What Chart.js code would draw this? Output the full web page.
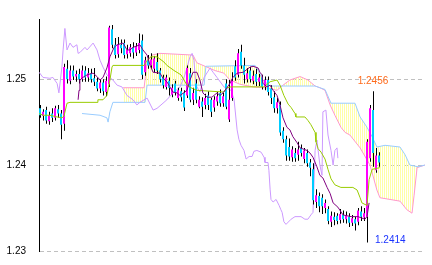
<!DOCTYPE html>
<html>
<head>
<meta charset="utf-8">
<script src="https://cdn.jsdelivr.net/npm/chart.js@4.4.1/dist/chart.umd.min.js"></script>
<style>
  html, body { margin: 0; padding: 0; background: #fff; }
  #chart { display: block; }
</style>
</head>
<body>
<canvas id="chart" width="432" height="265"></canvas>
<script>
// price axis
const yTicks = [1.23, 1.24, 1.25];

// candles, one per bar index 0..113
const opens = [
  1.2466, 1.2457, 1.2464, 1.2451, 1.2460, 1.2455, 1.2465, 1.2460, 1.2448, 1.2512,
  1.2498, 1.2510, 1.2503, 1.2506, 1.2500, 1.2510, 1.2502, 1.2507, 1.2501, 1.2497,
  1.2489, 1.2496, 1.2485, 1.2494, 1.2558, 1.2540, 1.2529, 1.2540, 1.2542, 1.2529,
  1.2530, 1.2537, 1.2531, 1.2534, 1.2545, 1.2508, 1.2522, 1.2516, 1.2512, 1.2520,
  1.2510, 1.2502, 1.2491, 1.2498, 1.2482, 1.2495, 1.2478, 1.2486, 1.2484, 1.2481,
  1.2507, 1.2476, 1.2495, 1.2468, 1.2474, 1.2470, 1.2481, 1.2476, 1.2467, 1.2474,
  1.2484, 1.2472, 1.2495, 1.2453, 1.2478, 1.2515, 1.2505, 1.2532, 1.2516, 1.2500,
  1.2510, 1.2498, 1.2506, 1.2497, 1.2502, 1.2491, 1.2499, 1.2489, 1.2479, 1.2466,
  1.2470, 1.2440, 1.2430, 1.2421, 1.2409, 1.2414, 1.2412, 1.2420, 1.2407, 1.2414,
  1.2403, 1.2395, 1.2357, 1.2364, 1.2362, 1.2350, 1.2349, 1.2334, 1.2340, 1.2341,
  1.2336, 1.2342, 1.2337, 1.2340, 1.2333, 1.2337, 1.2334, 1.2346, 1.2339, 1.2340,
  1.2408, 1.2464, 1.2394, 1.2411
];
const closes = [
  1.2458, 1.2462, 1.2452, 1.2458, 1.2455, 1.2466, 1.2460, 1.2447, 1.2514, 1.2500,
  1.2510, 1.2503, 1.2506, 1.2500, 1.2510, 1.2502, 1.2507, 1.2500, 1.2497, 1.2489,
  1.2496, 1.2486, 1.2498, 1.2560, 1.2540, 1.2528, 1.2540, 1.2536, 1.2528, 1.2534,
  1.2537, 1.2531, 1.2538, 1.2542, 1.2505, 1.2522, 1.2516, 1.2523, 1.2524, 1.2510,
  1.2500, 1.2493, 1.2502, 1.2490, 1.2490, 1.2484, 1.2487, 1.2479, 1.2467, 1.2513,
  1.2476, 1.2484, 1.2476, 1.2476, 1.2468, 1.2478, 1.2470, 1.2462, 1.2476, 1.2480,
  1.2472, 1.2480, 1.2468, 1.2476, 1.2498, 1.2502, 1.2530, 1.2516, 1.2505, 1.2507,
  1.2500, 1.2504, 1.2497, 1.2502, 1.2491, 1.2499, 1.2485, 1.2478, 1.2466, 1.2473,
  1.2438, 1.2430, 1.2411, 1.2410, 1.2418, 1.2408, 1.2418, 1.2414, 1.2417, 1.2402,
  1.2397, 1.2359, 1.2365, 1.2352, 1.2352, 1.2356, 1.2335, 1.2341, 1.2336, 1.2335,
  1.2343, 1.2337, 1.2341, 1.2333, 1.2338, 1.2332, 1.2347, 1.2340, 1.2344, 1.2427,
  1.2466, 1.2414, 1.2411, 1.2403
];
const highs = [
  1.2470, 1.2465, 1.2468, 1.2462, 1.2466, 1.2469, 1.2470, 1.2464, 1.2518, 1.2522,
  1.2516, 1.2516, 1.2510, 1.2512, 1.2516, 1.2515, 1.2513, 1.2512, 1.2513, 1.2502,
  1.2500, 1.2500, 1.2503, 1.2562, 1.2563, 1.2548, 1.2549, 1.2546, 1.2546, 1.2540,
  1.2541, 1.2543, 1.2542, 1.2553, 1.2552, 1.2526, 1.2528, 1.2530, 1.2527, 1.2530,
  1.2513, 1.2505, 1.2505, 1.2502, 1.2494, 1.2498, 1.2490, 1.2490, 1.2487, 1.2516,
  1.2513, 1.2490, 1.2500, 1.2480, 1.2479, 1.2483, 1.2486, 1.2478, 1.2480, 1.2485,
  1.2488, 1.2484, 1.2500, 1.2499, 1.2508, 1.2522, 1.2535, 1.2540, 1.2525, 1.2513,
  1.2514, 1.2510, 1.2512, 1.2506, 1.2505, 1.2503, 1.2503, 1.2493, 1.2486, 1.2478,
  1.2474, 1.2444, 1.2434, 1.2431, 1.2422, 1.2420, 1.2427, 1.2424, 1.2420, 1.2418,
  1.2407, 1.2402, 1.2372, 1.2368, 1.2366, 1.2360, 1.2352, 1.2346, 1.2345, 1.2344,
  1.2349, 1.2347, 1.2346, 1.2344, 1.2342, 1.2340, 1.2350, 1.2352, 1.2350, 1.2430,
  1.2470, 1.2486, 1.2420, 1.2415
];
const lows = [
  1.2455, 1.2452, 1.2448, 1.2447, 1.2450, 1.2452, 1.2455, 1.2430, 1.2440, 1.2495,
  1.2494, 1.2499, 1.2497, 1.2495, 1.2497, 1.2497, 1.2497, 1.2496, 1.2492, 1.2486,
  1.2484, 1.2481, 1.2480, 1.2491, 1.2536, 1.2524, 1.2525, 1.2530, 1.2524, 1.2524,
  1.2526, 1.2524, 1.2527, 1.2530, 1.2500, 1.2504, 1.2512, 1.2512, 1.2508, 1.2506,
  1.2496, 1.2489, 1.2488, 1.2481, 1.2479, 1.2481, 1.2475, 1.2474, 1.2463, 1.2478,
  1.2473, 1.2470, 1.2472, 1.2466, 1.2456, 1.2465, 1.2464, 1.2456, 1.2462, 1.2469,
  1.2468, 1.2468, 1.2465, 1.2450, 1.2475, 1.2498, 1.2502, 1.2512, 1.2495, 1.2496,
  1.2496, 1.2494, 1.2492, 1.2492, 1.2488, 1.2487, 1.2481, 1.2471, 1.2461, 1.2460,
  1.2434, 1.2426, 1.2405, 1.2405, 1.2404, 1.2404, 1.2405, 1.2410, 1.2402, 1.2398,
  1.2387, 1.2354, 1.2350, 1.2345, 1.2343, 1.2344, 1.2331, 1.2328, 1.2330, 1.2331,
  1.2332, 1.2333, 1.2332, 1.2328, 1.2329, 1.2324, 1.2330, 1.2335, 1.2335, 1.2310,
  1.2404, 1.2398, 1.2391, 1.2398
];

// indicator lines as [bar index, price]
const tenkan = [
  [12.7,1.2476],[13,1.2487],[13.3,1.2499],[14.3,1.2502],[15.7,1.2505],[17.7,1.2507],[19,1.2503],
  [20,1.2499],[21,1.2502],[22.3,1.2513],[23.3,1.2526],[24.7,1.2537],[25.7,1.2540],[27.7,1.2542],
  [29,1.2534],[30,1.2534],[31,1.2537],[33.3,1.2540],[34.3,1.2534],[35.7,1.2528],[36.7,1.2516],
  [37.7,1.2508],[40,1.2507],[41,1.2501],[42.3,1.2497],[43.3,1.2491],[44.3,1.2485],[45.7,1.2484],
  [46.7,1.2481],[49,1.2487],[50,1.2499],[51,1.2508],[52.3,1.2508],[53.3,1.2499],[54.3,1.2484],
  [55.7,1.2479],[57.3,1.2479],[59,1.2484],[60,1.2481],[61,1.2484],[62.3,1.2490],[63.3,1.2495],
  [64.3,1.2502],[65.7,1.2507],[67.7,1.2508],[70,1.2514],[71,1.2515],[72.7,1.2513],[73.3,1.2508],
  [74,1.2505],[74.3,1.2495],[75.7,1.2491],[76.7,1.2493],[77.7,1.2487],[79,1.2481],[80,1.2470],
  [81,1.2455],[82.3,1.2444],[83.3,1.2441],[84.3,1.2433],[85.7,1.2426],[86.7,1.2420],[89,1.2417],
  [90,1.2414],[91,1.2409],[92.3,1.2398],[93.3,1.2388],[94.3,1.2385],[95.7,1.2374],[96.7,1.2367],
  [97.7,1.2356],[99.3,1.2351],[101,1.2342],[103.7,1.2340],[106,1.2340],[108.3,1.2337],[109,1.2340],
  [109.7,1.2356]
];
const kijun = [
  [-0.3,1.2460],[1,1.2458],[3.3,1.2458],[5.7,1.2456],[7.3,1.2455],[8,1.2457],[9,1.2472],[10,1.2473],
  [19,1.2473],[19.3,1.2476],[21,1.2476],[22.3,1.2481],[23.3,1.2499],[24,1.2514],[24.3,1.2516],
  [34.7,1.2516],[35.7,1.2522],[37,1.2526],[39,1.2526],[41.3,1.2520],[42.3,1.2516],[44.7,1.2510],
  [47,1.2505],[48,1.2499],[49,1.2493],[50.3,1.2490],[52.3,1.2487],[61.3,1.2485],[62.3,1.2490],
  [63.7,1.2491],[74.7,1.2491],[76.7,1.2497],[79,1.2499],[80,1.2493],[81.3,1.2481],[82.7,1.2471],
  [83.7,1.2467],[85,1.2460],[85.3,1.2456],[88.3,1.2456],[89.3,1.2452],[90.3,1.2447],[91.7,1.2438],
  [92,1.2427],[92.7,1.2419],[93.7,1.2415],[95,1.2407],[96,1.2395],[97,1.2384],[98.3,1.2377],
  [100.3,1.2374],[104.3,1.2374],[105.7,1.2371],[106.7,1.2362],[107.3,1.2356],[109,1.2353],
  [109.7,1.2383],[110.7,1.2395],[113.3,1.2397]
];
const chikou = [
  [-0.3,1.2508],[1,1.2502],[3.3,1.2501],[4.3,1.2502],[5.7,1.2495],[6.3,1.2484],[7.3,1.2514],
  [7.7,1.2534],[8.3,1.2559],[9,1.2534],[10,1.2542],[11,1.2537],[12.3,1.2540],[12.7,1.2530],
  [13.3,1.2531],[15,1.2537],[15.7,1.2534],[17.7,1.2542],[19,1.2534],[20,1.2522],[21,1.2514],
  [22.3,1.2505],[24.3,1.2499],[25.7,1.2493],[27.3,1.2491],[29,1.2481],[31,1.2476],[32.3,1.2470],
  [33.3,1.2473],[35.7,1.2478],[37.7,1.2464],[39,1.2466],[41,1.2472],[42.3,1.2476],[44.3,1.2484],
  [46.7,1.2491],[48.3,1.2505],[50,1.2526],[50.7,1.2530],[51.3,1.2522],[52,1.2493],[53.3,1.2485],
  [54.7,1.2502],[56.7,1.2513],[57.7,1.2508],[59,1.2502],[61.3,1.2491],[63.7,1.2487],[64.7,1.2476],
  [65.7,1.2441],[66.3,1.2430],[67,1.2423],[68,1.2417],[68.7,1.2407],[69.7,1.2410],[70.7,1.2410],
  [71.3,1.2416],[72.3,1.2417],[73.7,1.2415],[74.7,1.2409],[75,1.2403],[76,1.2403],[76.3,1.2394],
  [76.7,1.2372],[77,1.2360],[77.7,1.2357],[78.7,1.2360],[79.7,1.2353],[80.3,1.2348],[80.7,1.2345],
  [81.3,1.2334],[82,1.2331],[83.7,1.2337],[85,1.2340],[87,1.2340],[88.3,1.2337],[89.3,1.2337],
  [90.3,1.2342],[91,1.2345],[91.7,1.2417],[92.3,1.2429],[93.3,1.2400],[94,1.2388],[94.3,1.2462],
  [95.3,1.2464],[96,1.2435],[97,1.2417],[97.7,1.2400],[98.3,1.2417],[99,1.2420],[99.3,1.2408]
];
const spanA = [
  [27.7,1.2490],[34.7,1.2490],[35.7,1.2520],[37.3,1.2528],[40,1.2530],[45.7,1.2529],[51,1.2528],
  [52.3,1.2519],[55,1.2515],[58.3,1.2510],[61.3,1.2507],[63.3,1.2499],[66.7,1.2494],[71,1.2491],
  [75,1.2490],[79,1.2487],[81,1.2493],[83.3,1.2499],[86.7,1.2503],[89.3,1.2499],[91.7,1.2492],
  [93.3,1.2490],[95,1.2487],[96.7,1.2470],[98.3,1.2458],[100.3,1.2444],[101.7,1.2438],[103.3,1.2435],
  [106.7,1.2420],[110,1.2400],[112.3,1.2371],[113.3,1.2362],[120,1.2358],[122.3,1.2348],[124,1.2344],
  [124.7,1.2365],[125.7,1.2397],[128.3,1.2400]
];
const spanB = [
  [14,1.2460],[20,1.2458],[22.3,1.2455],[22.7,1.2450],[23.3,1.2462],[24.3,1.2473],[35,1.2473],
  [35.7,1.2493],[54.7,1.2493],[55.3,1.2515],[71.7,1.2516],[72.7,1.2510],[74.3,1.2499],[76.7,1.2492],
  [91.7,1.2492],[93.3,1.2490],[95,1.2488],[97,1.2472],[105,1.2472],[106.7,1.2456],[109,1.2444],
  [110.7,1.2433],[112.3,1.2421],[115,1.2423],[120,1.2421],[121.7,1.2412],[123.3,1.2400],[126,1.2398],
  [128.3,1.2400]
];

// price notes written on the chart: [bar index, text]
const highNote = [111, '1.2456'];
const lowNote = [109, '1.2414'];

const canvas = document.getElementById('chart');
const ctx = canvas.getContext('2d');

// vertical hatching for the cloud
const tile = document.createElement('canvas');
tile.width = 2;
tile.height = 1;
const tctx = tile.getContext('2d');
tctx.fillStyle = '#ffffa8';
tctx.fillRect(0, 0, 1, 1);
const hatch = ctx.createPattern(tile, 'repeat');

const toPoints = arr => arr.map(p => ({x: p[0], y: p[1]}));
const bars = opens.map((o, i) => i);

function line(label, pts, color, order, extra) {
    return Object.assign({
        type: 'line',
        label: label,
        data: toPoints(pts),
        borderColor: color,
        borderWidth: 1,
        pointRadius: 0,
        tension: 0,
        fill: false,
        order: order
    }, extra || {});
}

const notes = {
    id: 'notes',
    afterDatasetsDraw(chart) {
        const x = chart.scales.x;
        const y = chart.scales.y;
        const c = chart.ctx;
        c.save();
        c.font = '10px "Liberation Sans", Arial, sans-serif';
        c.textBaseline = 'alphabetic';
        c.fillStyle = '#ff6a1a';
        c.textAlign = 'center';
        c.fillText(highNote[1], x.getPixelForValue(highNote[0]), y.getPixelForValue(highs[highNote[0]]) - 7);
        c.fillStyle = '#1a33ff';
        c.textAlign = 'left';
        c.fillText(lowNote[1], x.getPixelForValue(lowNote[0]) + 8, y.getPixelForValue(lows[lowNote[0]]) + 1);
        c.restore();
    }
};

Chart.defaults.font.family = '"Liberation Sans", Arial, sans-serif';
Chart.defaults.font.size = 10;
Chart.defaults.color = '#000';

new Chart(ctx, {
    type: 'bar',
    data: {
        datasets: [
            line('Senkou A', spanA, '#ff99cc', 10, {fill: '+1', backgroundColor: hatch}),
            line('Senkou B', spanB, '#99ccff', 9),
            line('Chikou', chikou, '#cc99ff', 8),
            {
                type: 'bar',
                label: 'wick',
                xAxisID: 'xw',
                data: bars.map(i => ({x: i, y: [lows[i], highs[i]]})),
                backgroundColor: '#000',
                barThickness: 1,
                grouped: false,
                inflateAmount: 0,
                borderWidth: 0,
                order: 6
            },
            {
                type: 'bar',
                label: 'body',
                data: bars.map(i => ({x: i, y: [opens[i], closes[i]]})),
                backgroundColor: c => closes[c.dataIndex] >= opens[c.dataIndex] ? '#ff00ff' : '#00ccff',
                barThickness: 2,
                grouped: false,
                inflateAmount: 0,
                borderWidth: 0,
                order: 5
            },
            line('Kijun', kijun, '#99cc00', 2),
            line('Tenkan', tenkan, '#800080', 1)
        ]
    },
    options: {
        responsive: false,
        animation: false,
        events: [],
        layout: { padding: { top: 19, right: 7, bottom: 14, left: 0 } },
        plugins: {
            legend: { display: false },
            tooltip: { enabled: false }
        },
        scales: {
            x: {
                type: 'linear',
                display: false,
                offset: false,
                min: -1 / 3,
                max: 128 + 1 / 3
            },
            xw: {
                type: 'linear',
                display: false,
                offset: false,
                min: -0.5,
                max: 128 + 1 / 6
            },
            y: {
                type: 'linear',
                position: 'left',
                min: 1.23,
                max: 1.257,
                afterFit: s => { s.width = 39; },
                afterBuildTicks: s => { s.ticks = yTicks.map(v => ({value: v})); },
                ticks: {
                    padding: 0,
                    color: '#000',
                    callback: v => v.toFixed(2)
                },
                grid: {
                    color: '#c0c0c0',
                    drawTicks: true,
                    tickLength: 13,
                    tickColor: 'rgba(0,0,0,0)'
                },
                border: {
                    display: true,
                    color: '#000',
                    width: 1,
                    dash: [4, 3]
                }
            }
        }
    },
    plugins: [notes]
});
</script>
</body>
</html>
